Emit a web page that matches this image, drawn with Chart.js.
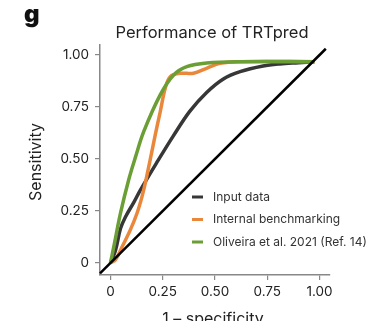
<!DOCTYPE html>
<html lang="en">
<head>
<meta charset="UTF-8" />
<title>Performance of TRTpred</title>
<script src="https://cdn.jsdelivr.net/npm/chart.js@4.4.0/dist/chart.umd.min.js"></script>
<style>
  html, body { margin: 0; padding: 0; background: #fff; }
  #wrap { width: 371px; height: 321px; position: relative; }
</style>
</head>
<body>
<div id="wrap"><canvas id="chart" width="371" height="321"></canvas></div>
<script>
// ROC curves (1 - specificity vs sensitivity)
const inputX = [0, 0.024, 0.048, 0.071, 0.111, 0.143, 0.22, 0.30, 0.38, 0.46, 0.54, 0.62, 0.73, 0.81, 0.90, 0.975];
const inputY = [0, 0.06, 0.165, 0.22, 0.29, 0.35, 0.48, 0.61, 0.73, 0.82, 0.885, 0.92, 0.947, 0.957, 0.963, 0.968];

const internalX = [0, 0.024, 0.056, 0.095, 0.127, 0.151, 0.17, 0.214, 0.238, 0.262, 0.286, 0.333, 0.397, 0.46, 0.524, 0.62, 0.975];
const internalY = [0, 0.015, 0.078, 0.159, 0.239, 0.319, 0.399, 0.615, 0.727, 0.84, 0.896, 0.912, 0.912, 0.936, 0.96, 0.968, 0.968];

const oliveiraX = [0, 0.016, 0.048, 0.087, 0.12, 0.159, 0.238, 0.302, 0.365, 0.46, 0.62, 0.975];
const oliveiraY = [0, 0.078, 0.239, 0.399, 0.51, 0.631, 0.808, 0.904, 0.944, 0.962, 0.968, 0.968];

// chance line
const diagX = [-0.05, 1.03];
const diagY = [-0.05, 1.03];

const xTicks = [0, 0.25, 0.5, 0.75, 1];
const xTickLabels = ['0', '0.25', '0.50', '0.75', '1.00'];
const yTicks = [0, 0.25, 0.5, 0.75, 1];
const yTickLabels = ['0', '0.25', '0.50', '0.75', '1.00'];

const seriesNames = ['Input data', 'Internal benchmarking', 'Oliveira et al. 2021 (Ref. 14)'];

function pts(xs, ys) {
  return xs.map((x, i) => ({ x: x, y: ys[i] }));
}

const FONT = 'Inter, "Open Sans", sans-serif';
const TXT = '#222';

// draws panel letter, title, axis titles and the in-plot legend
const textPlugin = {
  id: 'texts',
  afterDraw(chart) {
    const c = chart.ctx;
    c.save();
    c.fillStyle = '#111';
    c.font = '900 24px ' + FONT;
    c.textBaseline = 'alphabetic';
    c.textAlign = 'left';
    c.fillText('g', 24, 22);

    c.fillStyle = TXT;
    c.font = '16.5px ' + FONT;
    c.textAlign = 'center';
    c.fillText('Performance of TRTpred', 212, 38);

    c.font = '16px ' + FONT;
    c.fillText('1 \u2013 specificity', 213, 324);

    c.translate(41, 162);
    c.rotate(-Math.PI / 2);
    c.fillText('Sensitivity', 0, 0);
    c.restore();

    // legend
    c.save();
    c.font = '12px ' + FONT;
    c.textAlign = 'left';
    c.textBaseline = 'middle';
    chart.data.datasets.forEach((ds) => {
      if (!ds.inLegend) return;
      const y = 197 + ds.legendRow * 22.5;
      c.strokeStyle = ds.borderColor;
      c.lineWidth = 3;
      c.beginPath();
      c.moveTo(192, y);
      c.lineTo(203, y);
      c.stroke();
      c.fillStyle = '#333';
      c.fillText(ds.label, 213, y);
    });
    c.restore();
  }
};

const ctx = document.getElementById('chart').getContext('2d');
new Chart(ctx, {
  type: 'scatter',
  data: {
    datasets: [
      {
        label: 'diag',
        data: pts(diagX, diagY),
        borderColor: '#000',
        borderWidth: 2.5,
        tension: 0,
        order: 0,
        inLegend: false
      },
      {
        label: seriesNames[2],
        data: pts(oliveiraX, oliveiraY),
        borderColor: '#6b9e34',
        borderWidth: 3.5,
        tension: 0.35,
        order: 1,
        inLegend: true,
        legendRow: 2
      },
      {
        label: seriesNames[1],
        data: pts(internalX, internalY),
        borderColor: '#e9873b',
        borderWidth: 3.5,
        tension: 0.35,
        order: 2,
        inLegend: true,
        legendRow: 1
      },
      {
        label: seriesNames[0],
        data: pts(inputX, inputY),
        borderColor: '#373737',
        borderWidth: 3.5,
        tension: 0.35,
        order: 3,
        inLegend: true,
        legendRow: 0
      }
    ]
  },
  options: {
    responsive: false,
    animation: false,
    showLine: true,
    clip: false,
    elements: { point: { radius: 0 }, line: { capStyle: 'round', fill: false } },
    layout: { padding: { left: 0, right: 41, top: 45, bottom: 0 } },
    plugins: {
      legend: { display: false },
      title: { display: false },
      tooltip: { enabled: false }
    },
    scales: {
      x: {
        type: 'linear',
        min: -0.05,
        max: 1.05,
        afterFit: function (scale) { scale.height = 46; },
        afterBuildTicks: function (scale) { scale.ticks = xTicks.map(v => ({ value: v })); },
        grid: { drawOnChartArea: false, drawTicks: true, tickLength: 5, color: '#888', lineWidth: 1.2 },
        border: { display: true, color: '#888', width: 1.5 },
        ticks: {
          color: TXT,
          font: { family: FONT, size: 13.5 },
          padding: 4,
          maxRotation: 0,
          callback: function (value) {
            const i = xTicks.indexOf(value);
            return i >= 0 ? xTickLabels[i] : '';
          }
        }
      },
      y: {
        type: 'linear',
        min: -0.058,
        max: 1.048,
        afterFit: function (scale) { scale.width = 100; },
        afterBuildTicks: function (scale) { scale.ticks = yTicks.map(v => ({ value: v })); },
        grid: { drawOnChartArea: false, drawTicks: true, tickLength: 5, color: '#888', lineWidth: 1.2 },
        border: { display: true, color: '#888', width: 1.5 },
        ticks: {
          color: TXT,
          font: { family: FONT, size: 13.5 },
          padding: 6,
          callback: function (value) {
            const i = yTicks.indexOf(value);
            return i >= 0 ? yTickLabels[i] : '';
          }
        }
      }
    }
  },
  plugins: [textPlugin]
});
</script>
</body>
</html>
